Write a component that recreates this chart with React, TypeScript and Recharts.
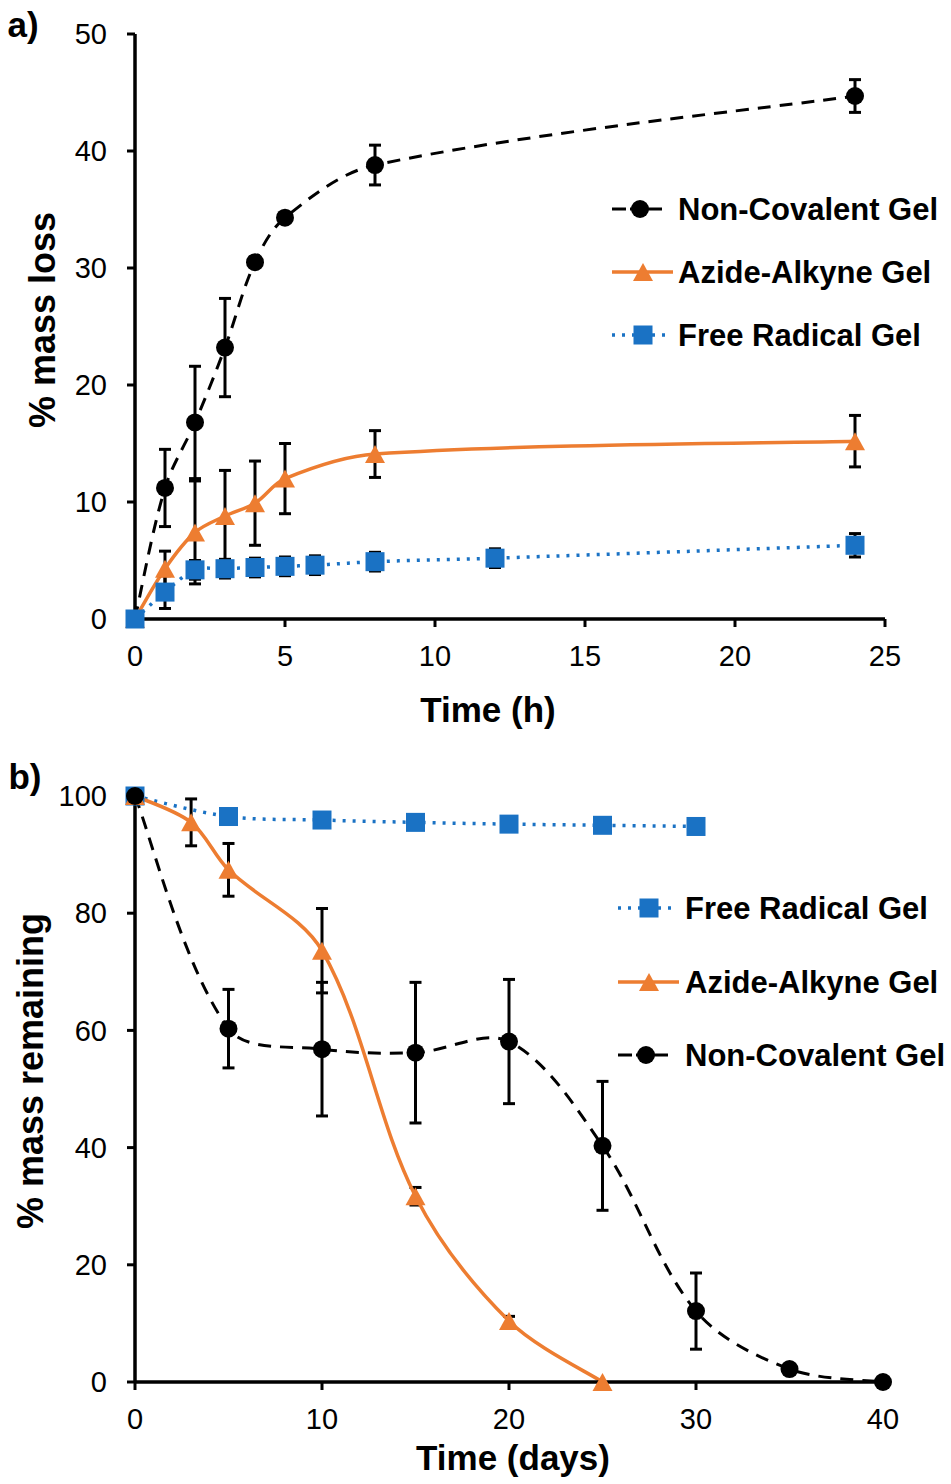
import React from 'react'
import { LineChart, Line, XAxis, YAxis, ErrorBar } from 'recharts'

// a) mass loss over the first day (h)
const hoursNonCovalent = [0, 1, 2, 3, 4, 5, 8, 24]
const lossNonCovalent = [0, 11.2, 16.8, 23.2, 30.5, 34.3, 38.8, 44.7]
const lossNonCovalentErr = [0, 3.3, 4.8, 4.2, 0.4, 0.4, 1.7, 1.4]

const hoursAzide = [0, 1, 2, 3, 4, 5, 8, 24]
const lossAzide = [0, 4.3, 7.4, 8.8, 9.9, 12.0, 14.1, 15.2]
const lossAzideErr = [0, 1.5, 4.4, 3.9, 3.6, 3.0, 2.0, 2.2]

const hoursRadical = [0, 1, 2, 3, 4, 5, 6, 8, 12, 24]
const lossRadical = [0, 2.3, 4.2, 4.3, 4.4, 4.5, 4.6, 4.9, 5.2, 6.3]
const lossRadicalErr = [0, 1.4, 0.8, 0.8, 0.8, 0.8, 0.8, 0.8, 0.8, 1.0]

const hourTicks = [0, 5, 10, 15, 20, 25]
const lossTicks = [0, 10, 20, 30, 40, 50]

// b) mass remaining over days
const daysRadical = [0, 5, 10, 15, 20, 25, 30]
const remainRadical = [100, 96.5, 95.9, 95.5, 95.2, 95.0, 94.8]
const remainRadicalErr = [0, 0.4, 0.4, 0.4, 0.4, 0.4, 0.4]

const daysAzide = [0, 3, 5, 10, 15, 20, 25]
const remainAzide = [100, 95.5, 87.4, 73.6, 31.7, 10.4, 0]
const remainAzideErr = [0, 4.0, 4.5, 7.2, 1.5, 0.8, 0]

const daysNonCovalent = [0, 5, 10, 15, 20, 25, 30, 35, 40]
const remainNonCovalent = [100, 60.3, 56.8, 56.2, 58.1, 40.3, 12.1, 2.2, 0]
const remainNonCovalentErr = [0, 6.7, 11.4, 12.0, 10.6, 11.0, 6.5, 0.5, 0]

const dayTicks = [0, 10, 20, 30, 40]
const remainTicks = [0, 20, 40, 60, 80, 100]

const FONT = '"Liberation Sans", Arial, Helvetica, sans-serif'
const BLACK = '#000000'
const ORANGE = '#ED7D31'
const BLUE = '#1A72C4'

const toPoints = (xs: number[], ys: number[], errs: number[]) =>
  xs.map((x, i) => ({ x, y: ys[i], err: errs[i] }))

// excel style smoothed line: catmull-rom tangents, scaled by segment length
function excelSmooth(context: any) {
  let pts: number[][] = []
  const dist = (a: number[], b: number[]) => Math.hypot(b[0] - a[0], b[1] - a[1])
  return {
    areaStart() {},
    areaEnd() {},
    lineStart() {
      pts = []
    },
    point(x: number, y: number) {
      pts.push([+x, +y])
    },
    lineEnd() {
      const n = pts.length
      if (!n) return
      context.moveTo(pts[0][0], pts[0][1])
      // tangent at each point
      const tan = pts.map((p, i) => {
        const a = pts[Math.max(i - 1, 0)]
        const b = pts[Math.min(i + 1, n - 1)]
        return [(b[0] - a[0]) / 2, (b[1] - a[1]) / 2]
      })
      const seg = (i: number) => (i < 0 || i >= n - 1 ? 0 : dist(pts[i], pts[i + 1]))
      for (let i = 0; i < n - 1; i++) {
        const p1 = pts[i]
        const p2 = pts[i + 1]
        const d = seg(i)
        const s1 = seg(i - 1) + d || 1
        const s2 = d + seg(i + 1) || 1
        const k1 = i === 0 ? 1 / 3 : ((2 / 3) * d) / s1
        const k2 = i + 1 === n - 1 ? 1 / 3 : ((2 / 3) * d) / s2
        context.bezierCurveTo(
          p1[0] + tan[i][0] * k1,
          p1[1] + tan[i][1] * k1,
          p2[0] - tan[i + 1][0] * k2,
          p2[1] - tan[i + 1][1] * k2,
          p2[0],
          p2[1]
        )
      }
    },
  }
}

const circleDot = (p: any) => (
  <circle key={`c-${p.index}`} cx={p.cx} cy={p.cy} r={9} fill={BLACK} />
)
const triangleDot = (p: any) => (
  <polygon
    key={`t-${p.index}`}
    points={`${p.cx},${p.cy - 9} ${p.cx + 10},${p.cy + 9} ${p.cx - 10},${p.cy + 9}`}
    fill={ORANGE}
  />
)
const squareDot = (p: any) => (
  <rect key={`s-${p.index}`} x={p.cx - 9.5} y={p.cy - 9.5} width={19} height={19} fill={BLUE} />
)

const axisLine = { stroke: BLACK, strokeWidth: 3.5 }
const tickLine = { stroke: BLACK, strokeWidth: 3 }
const tickStyle = { fill: BLACK, fontSize: 29, fontFamily: FONT }

const series = {
  nonCovalent: {
    stroke: BLACK, strokeWidth: 3, strokeDasharray: '13 9',
    legendDash: '14 4 40', legendWidth: 50, legendMark: 28, dot: circleDot,
  },
  azide: {
    stroke: ORANGE, strokeWidth: 3.5, strokeDasharray: undefined,
    legendDash: undefined, legendWidth: 61, legendMark: 31, dot: triangleDot,
  },
  radical: {
    stroke: BLUE, strokeWidth: 3.5, strokeDasharray: '3 7',
    legendDash: '3 7', legendWidth: 57, legendMark: 31, dot: squareDot,
  },
}

function Series(key: keyof typeof series, data: any[]) {
  const s = series[key]
  return (
    <Line
      key={key}
      data={data}
      dataKey="y"
      type={excelSmooth as any}
      stroke={s.stroke}
      strokeWidth={s.strokeWidth}
      strokeDasharray={s.strokeDasharray}
      dot={s.dot}
      activeDot={false}
      isAnimationActive={false}
      legendType="none"
    >
      <ErrorBar dataKey="err" direction="y" width={6} stroke={BLACK} strokeWidth={3} />
    </Line>
  )
}

function Text({ x, y, size, bold, rotate, children }: any) {
  return (
    <div
      style={{
        position: 'absolute',
        left: x,
        top: y,
        transform: `translate(-50%, -50%)${rotate ? ' rotate(-90deg)' : ''}`,
        fontFamily: FONT,
        fontSize: size,
        fontWeight: bold ? 'bold' : 'normal',
        lineHeight: 1,
        whiteSpace: 'nowrap',
        color: BLACK,
      }}
    >
      {children}
    </div>
  )
}

function LegendRow({ kind, label, lineX, textX, y }: any) {
  const s = series[kind as keyof typeof series]
  const w = s.legendWidth
  return (
    <>
      <svg style={{ position: 'absolute', left: lineX, top: y - 15 }} width={w} height={30}>
        <line
          x1={0}
          y1={15}
          x2={w}
          y2={15}
          stroke={s.stroke}
          strokeWidth={s.strokeWidth}
          strokeDasharray={s.legendDash}
        />
        {s.dot({ cx: s.legendMark, cy: 15, index: 0 })}
      </svg>
      <div
        style={{
          position: 'absolute',
          left: textX,
          top: y,
          transform: 'translateY(-50%)',
          fontFamily: FONT,
          fontSize: 31,
          fontWeight: 'bold',
          lineHeight: 1,
          whiteSpace: 'nowrap',
        }}
      >
        {label}
      </div>
    </>
  )
}

export default function App() {
  return (
    <div style={{ position: 'absolute', left: 0, top: 0, width: 951, height: 1484, background: '#fff' }}>
      <div style={{ position: 'absolute', left: 0, top: 0 }}>
        <LineChart width={951} height={740} margin={{ top: 34, right: 66, bottom: 61, left: 0 }}>
          <XAxis
            type="number"
            dataKey="x"
            domain={[0, 25]}
            ticks={hourTicks}
            height={60}
            axisLine={axisLine}
            tickLine={tickLine}
            tickSize={8}
            tickMargin={18}
            tick={tickStyle}
          />
          <YAxis
            type="number"
            domain={[0, 50]}
            ticks={lossTicks}
            width={135}
            axisLine={axisLine}
            tickLine={tickLine}
            tickSize={8}
            tickMargin={20}
            tick={tickStyle}
          />
          {Series('nonCovalent', toPoints(hoursNonCovalent, lossNonCovalent, lossNonCovalentErr))}
          {Series('azide', toPoints(hoursAzide, lossAzide, lossAzideErr))}
          {Series('radical', toPoints(hoursRadical, lossRadical, lossRadicalErr))}
        </LineChart>
      </div>
      <div style={{ position: 'absolute', left: 0, top: 740 }}>
        <LineChart width={951} height={744} margin={{ top: 56, right: 68, bottom: 42, left: 0 }}>
          <XAxis
            type="number"
            dataKey="x"
            domain={[0, 40]}
            ticks={dayTicks}
            height={60}
            axisLine={axisLine}
            tickLine={tickLine}
            tickSize={8}
            tickMargin={18}
            tick={tickStyle}
          />
          <YAxis
            type="number"
            domain={[0, 100]}
            ticks={remainTicks}
            width={135}
            axisLine={axisLine}
            tickLine={tickLine}
            tickSize={8}
            tickMargin={20}
            tick={tickStyle}
          />
          {Series('radical', toPoints(daysRadical, remainRadical, remainRadicalErr))}
          {Series('azide', toPoints(daysAzide, remainAzide, remainAzideErr))}
          {Series('nonCovalent', toPoints(daysNonCovalent, remainNonCovalent, remainNonCovalentErr))}
        </LineChart>
      </div>

      <Text x={23} y={24} size={35} bold>a)</Text>
      <Text x={25} y={776} size={35} bold>b)</Text>
      <Text x={488} y={709} size={35} bold>Time (h)</Text>
      <Text x={513} y={1457} size={35} bold>Time (days)</Text>
      <Text x={43} y={320} size={36} bold rotate>% mass loss</Text>
      <Text x={31} y={1071} size={36} bold rotate>% mass remaining</Text>

      <LegendRow kind="nonCovalent" label="Non-Covalent Gel" lineX={612} textX={678} y={209} />
      <LegendRow kind="azide" label="Azide-Alkyne Gel" lineX={612} textX={678} y={272} />
      <LegendRow kind="radical" label="Free Radical Gel" lineX={612} textX={678} y={335} />

      <LegendRow kind="radical" label="Free Radical Gel" lineX={618} textX={685} y={908} />
      <LegendRow kind="azide" label="Azide-Alkyne Gel" lineX={618} textX={685} y={982} />
      <LegendRow kind="nonCovalent" label="Non-Covalent Gel" lineX={618} textX={685} y={1055} />
    </div>
  )
}
